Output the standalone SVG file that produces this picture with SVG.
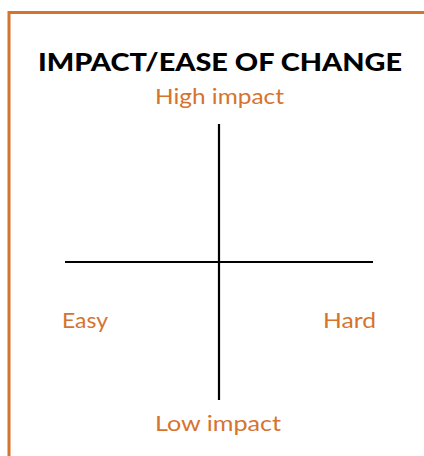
<svg xmlns="http://www.w3.org/2000/svg" width="424" height="456" viewBox="0 0 424 456">
  <style>
    .frame { fill: none; stroke: #D4742F; stroke-width: 3; }
    .axis { stroke: #000; stroke-width: 2.2; fill: none; }
    .title { font-family: Lato, "Liberation Sans", sans-serif; font-weight: 900; font-size: 25px; fill: #000; }
    .label { font-family: Lato, "Liberation Sans", sans-serif; font-size: 22px; fill: #D4742F; }
  </style>
  <rect width="424" height="456" fill="#fff"/>
  <!-- outer frame, open to the right and bottom -->
  <rect class="frame" x="9" y="12.5" width="430" height="460"/>

  <g id="title">
    <text class="title" x="220" y="71" text-anchor="middle" textLength="364" lengthAdjust="spacingAndGlyphs">IMPACT/EASE OF CHANGE</text>
  </g>

  <g id="connectors">
    <line class="axis" x1="219" y1="124" x2="219" y2="400"/>
    <line class="axis" x1="65" y1="262" x2="373" y2="262"/>
  </g>

  <g id="high-impact">
    <text class="label" x="219.5" y="104" text-anchor="middle" textLength="129" lengthAdjust="spacingAndGlyphs">High impact</text>
  </g>
  <g id="easy">
    <text class="label" x="62" y="328" textLength="46" lengthAdjust="spacingAndGlyphs">Easy</text>
  </g>
  <g id="hard">
    <text class="label" x="323" y="328" textLength="53" lengthAdjust="spacingAndGlyphs">Hard</text>
  </g>
  <g id="low-impact">
    <text class="label" x="218" y="431" text-anchor="middle" textLength="126" lengthAdjust="spacingAndGlyphs">Low impact</text>
  </g>
</svg>
